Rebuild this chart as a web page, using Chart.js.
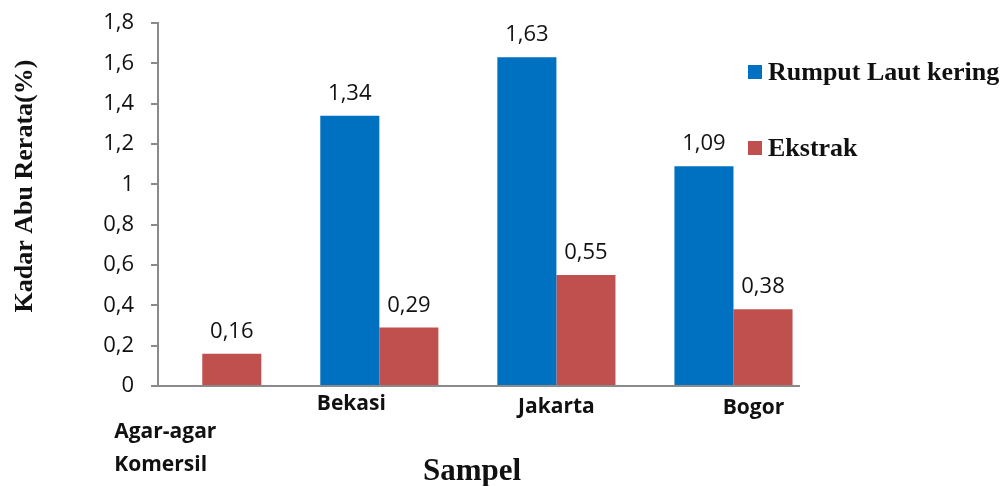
<!DOCTYPE html>
<html>
<head>
<meta charset="utf-8">
<script src="https://cdn.jsdelivr.net/npm/chart.js@4"></script>
<style>
  html, body { margin: 0; padding: 0; background: #fff; }
  #wrap { width: 1005px; height: 486px; position: relative; }
</style>
</head>
<body>
<div id="wrap"><canvas id="chart"></canvas></div>
<script>
const categories = [["Agar-agar", "Komersil"], "Bekasi", "Jakarta", "Bogor"];
const rumputLaut = [null, 1.34, 1.63, 1.09];
const ekstrak = [0.16, 0.29, 0.55, 0.38];
const yTicks = [0, 0.2, 0.4, 0.6, 0.8, 1, 1.2, 1.4, 1.6, 1.8];

const BLUE = "#0070C0";
const RED = "#C0504D";
const AXIS = "#8a8a8a";

function fmt(v) {
  return String(Number(v.toFixed(2))).replace(".", ",");
}

// value labels above each bar
const valueLabels = {
  id: "valueLabels",
  afterDatasetsDraw(chart) {
    const ctx = chart.ctx;
    ctx.save();
    ctx.font = "22px 'Open Sans'";
    ctx.fillStyle = "#111";
    ctx.textAlign = "center";
    ctx.textBaseline = "alphabetic";
    chart.data.datasets.forEach((ds, di) => {
      chart.getDatasetMeta(di).data.forEach((bar, i) => {
        const v = ds.data[i].y;
        if (v == null) return;
        ctx.fillText(fmt(v), bar.x, bar.y - 16);
      });
    });
    ctx.restore();
  }
};

// category names under the axis (placed as in the original figure)
const categoryLabels = {
  id: "categoryLabels",
  afterDraw(chart) {
    const ctx = chart.ctx;
    const xs = chart.scales.x;
    const base = chart.chartArea.bottom;
    ctx.save();
    ctx.font = "bold 21px 'Open Sans'";
    ctx.fillStyle = "#111";
    ctx.textBaseline = "alphabetic";
    const shift = [[-88, 52], [-28, 24], [0, 27], [20, 28]];
    categories.forEach((c, i) => {
      const cx = xs.getPixelForValue(i) + shift[i][0];
      const y = base + shift[i][1];
      if (Array.isArray(c)) {
        ctx.textAlign = "left";
        c.forEach((line, k) => ctx.fillText(line, cx, y + k * 33));
      } else {
        ctx.textAlign = "center";
        ctx.fillText(c, cx, y);
      }
    });

    // axis titles
    ctx.font = "bold 31px 'Liberation Serif'";
    ctx.textAlign = "center";
    ctx.fillText("Sampel", 472, 480);

    ctx.save();
    ctx.translate(32, 186);
    ctx.rotate(-Math.PI / 2);
    ctx.font = "bold 26px 'Liberation Serif'";
    ctx.fillText("Kadar Abu Rerata(%)", 0, 0);
    ctx.restore();

    // legend
    ctx.font = "bold 26px 'Liberation Serif'";
    ctx.textAlign = "left";
    ctx.textBaseline = "middle";
    chart.data.datasets.forEach((ds, di) => {
      const y = 72 + di * 76;
      ctx.fillStyle = ds.backgroundColor;
      ctx.fillRect(748, y - 7, 14, 14);
      ctx.fillStyle = "#111";
      ctx.fillText(ds.label, 768, y + 1);
    });
    ctx.restore();
  }
};

new Chart(document.getElementById("chart"), {
  type: "bar",
  data: {
    datasets: [
      {
        label: "Rumput Laut kering",
        data: rumputLaut.map((v, i) => ({ x: i, y: v })),
        backgroundColor: BLUE,
        categoryPercentage: 0.667,
        barPercentage: 1.0,
      },
      {
        label: "Ekstrak",
        data: ekstrak.map((v, i) => ({ x: i, y: v })),
        backgroundColor: RED,
        categoryPercentage: 0.667,
        barPercentage: 1.0,
      },
    ],
  },
  options: {
    responsive: true,
    maintainAspectRatio: false,
    animation: false,
    layout: { padding: { top: 23, right: 206, left: 0, bottom: 0 } },
    plugins: {
      legend: { display: false },
      tooltip: { enabled: false },
    },
    scales: {
      x: {
        type: "linear",
        offset: false,
        min: -0.25,
        max: 3.37,
        afterBuildTicks(scale) { scale.ticks = categories.map((c, i) => ({ value: i })); },
        grid: { display: false, offset: false },
        border: { display: true, color: AXIS, width: 2 },
        ticks: { display: false },
        afterFit(scale) {
          scale.height = 100;
          scale.paddingLeft = 0;
          scale.paddingRight = 0;
        },
      },
      y: {
        min: 0,
        max: 1.8,
        afterBuildTicks(scale) { scale.ticks = yTicks.map((v) => ({ value: v })); },
        grid: { drawOnChartArea: false, drawTicks: true, tickLength: 7, color: AXIS, lineWidth: 2 },
        border: { display: true, color: AXIS, width: 2 },
        ticks: {
          padding: 17,
          color: "#111",
          font: { family: "'Open Sans'", size: 22 },
          callback: (v) => fmt(v),
        },
        afterFit(scale) {
          scale.width = 158;
          scale.paddingTop = 0;
          scale.paddingBottom = 0;
        },
      },
    },
  },
  plugins: [valueLabels, categoryLabels],
});
</script>
</body>
</html>
